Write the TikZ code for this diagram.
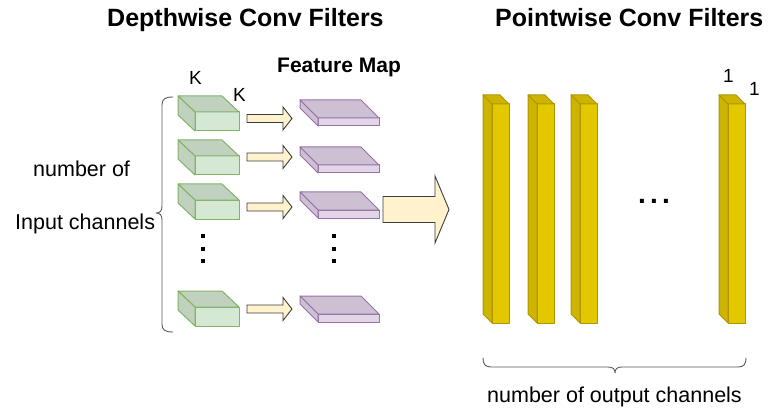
\documentclass[tikz,border=0pt]{standalone}
\usepackage{fontspec}
\setmainfont{Liberation Sans}
\definecolor{gfront}{HTML}{D5E8D4}
\definecolor{gdark}{HTML}{C0D2BF}
\definecolor{gline}{HTML}{82B366}
\definecolor{pfront}{HTML}{E1D5E7}
\definecolor{pdark}{HTML}{CDC0D3}
\definecolor{pline}{HTML}{9673A6}
\definecolor{yfront}{HTML}{E3C800}
\definecolor{ydark}{HTML}{CCB400}
\definecolor{yline}{HTML}{B09500}
\definecolor{afill}{HTML}{FFF2CC}
\definecolor{aline}{HTML}{3C3C3C}
\definecolor{bracec}{HTML}{595959}
% #1 x, #2 y (front face top-left), #3 w, #4 h, #5 dx, #6 dy, #7 front, #8 dark, #9 line
\newcommand\mycuboid[9]{%
  \filldraw[fill=#7,draw=#9,line width=1pt,line join=round] (#1,#2) rectangle ++(#3,#4);
  \filldraw[fill=#8,draw=#9,line width=1pt,line join=round] (#1,#2) -- ++(-#5,-#6) -- ++(#3,0) -- ++(#5,#6) -- cycle;
  \filldraw[fill=#8,draw=#9,line width=1pt,line join=round] (#1,#2) -- ++(-#5,-#6) -- ++(0,#4) -- ++(#5,#6) -- cycle;
}
\newcommand\greenbox[1]{\mycuboid{195}{#1}{44}{19}{17}{16}{gfront}{gdark}{gline}}
\newcommand\purplebox[1]{\mycuboid{318}{#1}{61}{8}{18}{18}{pfront}{pdark}{pline}}
\newcommand\yellowbar[1]{\mycuboid{#1}{104}{17}{219}{9}{9}{yfront}{ydark}{yline}}
% block arrow: #1 x start, #2 head start, #3 tip x, #4 y centre, #5 shaft half, #6 head half
\newcommand\blockarrow[6]{%
  \filldraw[fill=afill,draw=aline,line width=0.9pt,line join=miter]
    (#1,#4-#5) -- (#2,#4-#5) -- (#2,#4-#6) -- (#3,#4) -- (#2,#4+#6) -- (#2,#4+#5) -- (#1,#4+#5) -- cycle;
}
\tikzset{
  lbl/.style={inner sep=0pt,anchor=base west,text=black},
  title/.style={lbl,font=\fontsize{25}{30}\selectfont\bfseries},
  plain/.style={lbl,font=\fontsize{21.5}{26}\selectfont},
  small/.style={inner sep=0pt,anchor=base,font=\fontsize{19}{23}\selectfont},
  bracestyle/.style={draw=bracec,line width=0.9pt,line cap=round,line join=round},
}
\begin{document}
\begin{tikzpicture}[x=1pt,y=-1pt]
\useasboundingbox (0,0) rectangle (773,414);

% titles
\node[title] (t1) at (107,27) {Depthwise Conv Filters};
\node[title] (t2) at (495,27) {Pointwise Conv Filters};
\node[lbl,font=\fontsize{21}{25}\selectfont\bfseries] (fm) at (277,73) {Feature Map};

% K labels
\node[small] (k1) at (195.5,85) {K};
\node[small] (k2) at (239.5,102) {K};

% green filters
\greenbox{112}
\greenbox{156}
\greenbox{200}
\greenbox{307}

% purple feature maps
\purplebox{118}
\purplebox{165}
\purplebox{210}
\purplebox{314}

% small arrows
\blockarrow{247}{283}{292}{118.5}{4}{11.5}
\blockarrow{247}{283}{292}{157}{4}{11.5}
\blockarrow{247}{283}{292}{207}{4}{11.5}
\blockarrow{247}{283}{292}{309}{4}{11.5}

% big arrow
\blockarrow{383}{435}{449}{209.5}{13}{33.5}

% vertical dots
\foreach \xx in {203,334}{
  \foreach \yy in {236,248.5,261}{
    \fill[black] (\xx-2,\yy-2) rectangle (\xx+2,\yy+2);
  }
}

% horizontal dots
\node[inner sep=0pt,anchor=base,font=\fontsize{28}{30}\selectfont\bfseries] (hd) at (654,203.5) {.\kern4.2pt.\kern4.2pt.};

% yellow bars
\yellowbar{492}
\yellowbar{537}
\yellowbar{580}
\yellowbar{728}

% "1" labels
\node[small] (o1) at (728.5,83) {1};
\node[small] (o2) at (754.5,96) {1};

% left labels
\node[plain] (nof) at (33,177) {number of};
\node[plain] (inc) at (15,229) {Input channels};

% left brace
\draw[bracestyle] (173,97) .. controls (165,97) and (162,99) .. (162,105) -- (162,206)
  .. controls (162,211) and (160,213) .. (156,213)
  .. controls (160,213) and (162,215) .. (162,220) -- (162,324)
  .. controls (162,330) and (165,332) .. (173,332);

% bottom brace
\draw[bracestyle] (483,358) .. controls (483,364) and (485,367) .. (491,367) -- (608,367)
  .. controls (613,367) and (615,369) .. (615,373)
  .. controls (615,369) and (617,367) .. (622,367) -- (738,367)
  .. controls (744,367) and (746,364) .. (746,358);

\node[plain] (noc) at (487,402) {number of output channels};
\end{tikzpicture}
\end{document}
